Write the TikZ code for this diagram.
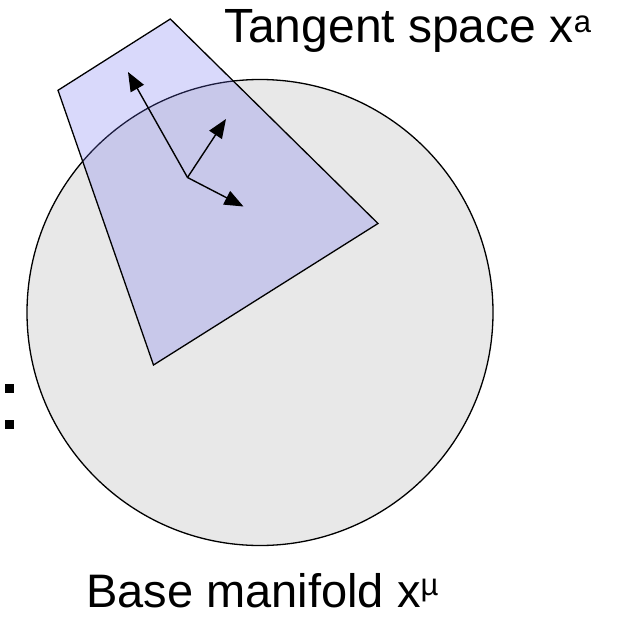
\documentclass[tikz,border=0pt]{standalone}
\usepackage{fontspec}
\setmainfont{Liberation Sans}
\usetikzlibrary{arrows.meta}
\definecolor{circfill}{RGB}{232,232,232}
\definecolor{planefill}{RGB}{110,110,240}
\tikzset{
  vec/.style={line width=1.4pt, -{Triangle[length=19pt,width=15pt]}},
  edge/.style={line width=1.3pt},
  lbl/.style={inner sep=0pt, anchor=base west}
}
\begin{document}
\begin{tikzpicture}[x=1pt,y=-1pt]
\useasboundingbox (0,0) rectangle (618,618);
% base manifold
\node[circle, draw, edge, fill=circfill, minimum size=466pt, inner sep=0pt] (base) at (260,312.5) {};
% tangent plane
\coordinate (p1) at (170.3,19);
\coordinate (p2) at (58,90.3);
\coordinate (p3) at (153.5,365);
\coordinate (p4) at (378,223.5);
\fill[planefill, fill opacity=0.26] (p1) -- (p2) -- (p3) -- (p4) -- cycle;
\draw[edge, line join=miter] (p1) -- (p2) -- (p3) -- (p4) -- cycle;
% vectors
\coordinate (o) at (187.5,177.5);
\coordinate (t1) at (128,72);
\coordinate (t2) at (226,119);
\coordinate (t3) at (243.5,206.5);
\draw[vec] (o) -- (t1);
\draw[vec] (o) -- (t2);
\draw[vec] (o) -- (t3);
% cut-off colon at the left edge
\fill (5,384) rectangle (14,393);
\fill (5,419.5) rectangle (14,428.5);
% labels
\node[lbl] (tlabel) at (224,43) {\fontsize{48}{56}\selectfont Tangent space x\raisebox{10pt}{\fontsize{31}{31}\selectfont a}};
\node[lbl] (blabel) at (86,607) {\fontsize{47}{56}\selectfont Base manifold x\raisebox{12pt}{\fontsize{31}{31}\selectfont µ}};
\end{tikzpicture}
\end{document}
